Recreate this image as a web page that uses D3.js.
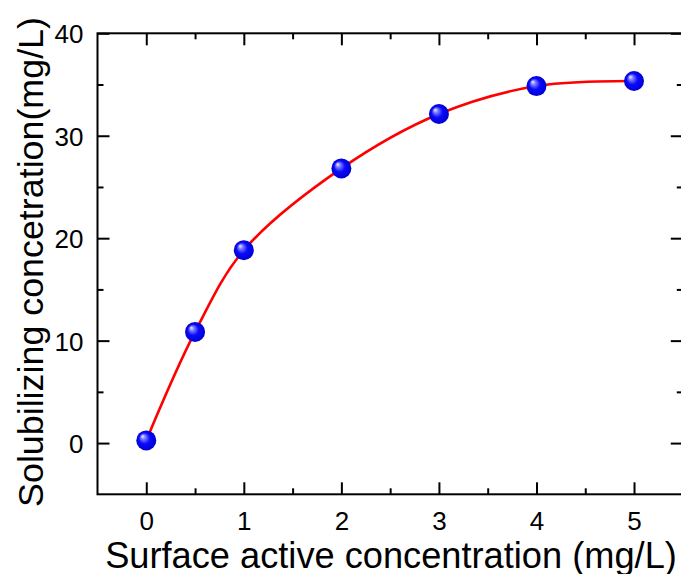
<!DOCTYPE html>
<html><head><meta charset="utf-8">
<script src="https://cdn.jsdelivr.net/npm/d3@7"></script>
<style>body{margin:0;background:#fff}svg{display:block}text{font-family:"Liberation Sans",Arial,sans-serif}</style>
</head><body>
<svg id="c" width="681" height="574"></svg>
<script>
const xValues = [0, 0.5, 1, 2, 3, 4, 5];
const yValues = [0.26, 10.85, 18.83, 26.81, 32.12, 34.85, 35.34];
const xTicks = [0, 1, 2, 3, 4, 5];
const yTicks = [0, 10, 20, 30, 40];
const xTitle = "Surface active concentration (mg/L)";
const yTitle = "Solubilizing concetration(mg/L)";

const svg = d3.select("#c");
const L = 97.5, R = 682.8, T = 33.3, B = 494.3;
const x = d3.scaleLinear().domain([-0.5, 5.5]).range([L, R]);
const y = d3.scaleLinear().domain([-5, 40]).range([B, T]);

const defs = svg.append("defs");
const g = defs.append("radialGradient").attr("id","ball").attr("cx","50%").attr("cy","50%").attr("r","50%").attr("fx","30%").attr("fy","28%");
g.append("stop").attr("offset","0%").attr("stop-color","#f4f4ff");
g.append("stop").attr("offset","22%").attr("stop-color","#8080ff");
g.append("stop").attr("offset","55%").attr("stop-color","#0a0aff");
g.append("stop").attr("offset","100%").attr("stop-color","#0000cc");

const minorX = d3.range(-0.5, 5.51, 0.5);
const minorY = d3.range(-5, 40.1, 5);

function style(sel){ sel.select(".domain").remove(); sel.selectAll("line").attr("stroke","#000").attr("stroke-width",2); }
const mx = minorX.filter(v=>!xTicks.includes(v) && v>-0.5 && v<5.5);
const my = minorY.filter(v=>!yTicks.includes(v) && v>-5 && v<40);

svg.append("g").attr("transform",`translate(0,${B})`)
  .call(d3.axisBottom(x).tickValues(mx).tickSize(-6).tickFormat("")).call(style);
const gb = svg.append("g").attr("transform",`translate(0,${B})`)
  .call(d3.axisBottom(x).tickValues(xTicks).tickSize(-12).tickPadding(36).tickFormat(d3.format("d")))
  .call(style);
gb.attr("font-size",null).attr("font-family",null);
gb.selectAll("text").style("font-size","26px").attr("fill","#000").attr("dy","0");
svg.append("g").attr("transform",`translate(0,${T})`)
  .call(d3.axisTop(x).tickValues(mx).tickSize(-6).tickFormat("")).call(style);
svg.append("g").attr("transform",`translate(0,${T})`)
  .call(d3.axisTop(x).tickValues(xTicks).tickSize(-12).tickFormat("")).call(style);
svg.append("g").attr("transform",`translate(${L},0)`)
  .call(d3.axisLeft(y).tickValues(my).tickSize(-6).tickFormat("")).call(style);
const gl = svg.append("g").attr("transform",`translate(${L},0)`)
  .call(d3.axisLeft(y).tickValues(yTicks).tickSize(-12).tickPadding(14).tickFormat(d3.format("d")))
  .call(style);
gl.attr("font-size",null).attr("font-family",null);
gl.selectAll("text").style("font-size","26px").attr("fill","#000").attr("dy","0.36em");
svg.append("g").attr("transform",`translate(${R},0)`)
  .call(d3.axisRight(y).tickValues(my).tickSize(-6).tickFormat("")).call(style);
svg.append("g").attr("transform",`translate(${R},0)`)
  .call(d3.axisRight(y).tickValues(yTicks).tickSize(-12).tickFormat("")).call(style);

svg.append("rect").attr("x",L).attr("y",T).attr("width",R-L).attr("height",B-T)
  .attr("fill","none").attr("stroke","#000").attr("stroke-width",2);

const pts = xValues.map((v,i)=>[v, yValues[i]]);
svg.append("path").datum(pts)
  .attr("d", d3.line().x(d=>x(d[0])).y(d=>y(d[1])).curve(d3.curveCatmullRom.alpha(0.5)))
  .attr("fill","none").attr("stroke","#ff0000").attr("stroke-width",2.6);

svg.append("g").selectAll("circle").data(pts).join("circle")
  .attr("cx",d=>x(d[0])).attr("cy",d=>y(d[1])).attr("r",10)
  .attr("fill","url(#ball)");

function fit(t, w){ const l = t.node().getComputedTextLength(); t.style("font-size", (34*w/l)+"px"); }
const xt = svg.append("text").attr("x",391).attr("y",568).attr("text-anchor","middle")
  .style("font-size","34px").attr("fill","#000").text(xTitle);
fit(xt, 572);
const yt = svg.append("text").attr("transform","translate(43,262) rotate(-90)").attr("text-anchor","middle")
  .style("font-size","34px").attr("fill","#000").text(yTitle);
fit(yt, 490);
</script>
</body></html>
